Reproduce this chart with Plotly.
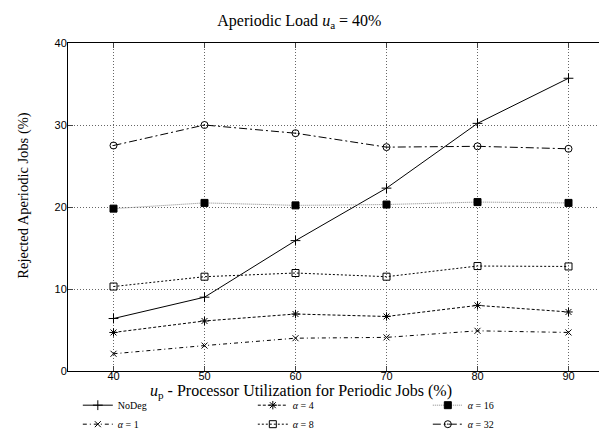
import plotly.graph_objects as go

x_vals = [40, 50, 60, 70, 80, 90]
nodeg = [6.4, 9.0, 15.9, 22.3, 30.2, 35.7]
alpha1 = [2.1, 3.1, 4.0, 4.1, 4.9, 4.7]
alpha4 = [4.7, 6.1, 6.95, 6.65, 8.0, 7.2]
alpha8 = [10.3, 11.5, 11.95, 11.5, 12.8, 12.75]
alpha16 = [19.8, 20.5, 20.2, 20.3, 20.6, 20.5]
alpha32 = [27.5, 30.0, 29.0, 27.3, 27.4, 27.1]

x_ticks = [40, 50, 60, 70, 80, 90]
y_ticks = [0, 10, 20, 30, 40]

series = [
    ("NoDeg", nodeg, "solid", "cross-thin-open", "black", 7),
    ("<i>α</i> = 4", alpha4, "3px,2px", "asterisk-open", "black", 7),
    ("<i>α</i> = 16", alpha16, "1px,1px", "square", "#888888", 7),
    ("<i>α</i> = 1", alpha1, "4px,3px,1px,3px", "x-thin-open", "black", 6),
    ("<i>α</i> = 8", alpha8, "2px,2px", "square-open", "black", 7),
    ("<i>α</i> = 32", alpha32, "8px,3px,2px,3px", "circle-open-dot", "black", 7),
]

fig = go.Figure()
for name, vals, dash, sym, col, ms in series:
    fig.add_trace(go.Scatter(
        x=x_vals, y=vals, name=name, mode="lines+markers",
        line=dict(color=col, width=1, dash=dash),
        marker=dict(symbol=sym, size=ms, color="black",
                    line=dict(color="black", width=1)),
    ))

fig.update_layout(
    width=607, height=440,
    margin=dict(l=60, r=1, t=35, b=77, autoexpand=False),
    paper_bgcolor="white", plot_bgcolor="white",
    title=dict(text="Aperiodic Load <i>u</i><sub>a</sub> = 40%",
               x=0.48, xanchor="center", y=0.985, yanchor="top",
               font=dict(family="Liberation Serif", size=16, color="black")),
    font=dict(family="Liberation Sans", size=11, color="black"),
    legend=dict(orientation="h", x=0.018, xanchor="left", y=-0.06, yanchor="top",
                entrywidth=130, entrywidthmode="pixels",
                font=dict(family="Liberation Serif", size=10),
                tracegroupgap=0, itemwidth=30,
                bgcolor="rgba(0,0,0,0)"),
    showlegend=True,
    annotations=[
        dict(text="<i>u</i><sub>p</sub> - Processor Utilization for Periodic Jobs (%)",
             xref="paper", yref="paper", x=(293 - 60) / 546, y=-0.062,
             xanchor="center", yanchor="middle", showarrow=False,
             font=dict(family="Liberation Serif", size=16, color="black")),
        dict(text="Rejected Aperiodic Jobs (%)", textangle=-90,
             xref="paper", yref="paper", x=-0.083, y=(363 - 188) / 328,
             xanchor="center", yanchor="middle", showarrow=False,
             font=dict(family="Liberation Serif", size=14.5, color="black")),
    ],
)
fig.update_xaxes(
    range=[35, 95], tickvals=x_ticks, ticks="inside", ticklen=5,
    showline=True, linecolor="black", linewidth=1, mirror="allticks",
    showgrid=True, gridcolor="#666666", gridwidth=1, griddash="1px,2px",
    zeroline=False, ticklabelstandoff=-5,
    tickfont=dict(family="Liberation Sans", size=11),
)
fig.update_yaxes(
    range=[0, 40], tickvals=y_ticks, ticks="inside", ticklen=5,
    showline=True, linecolor="black", linewidth=1, mirror="allticks",
    showgrid=True, gridcolor="#666666", gridwidth=1, griddash="1px,2px",
    zeroline=False, ticklabelstandoff=-2,
    tickfont=dict(family="Liberation Sans", size=11),
)

fig.write_html("out.html")
